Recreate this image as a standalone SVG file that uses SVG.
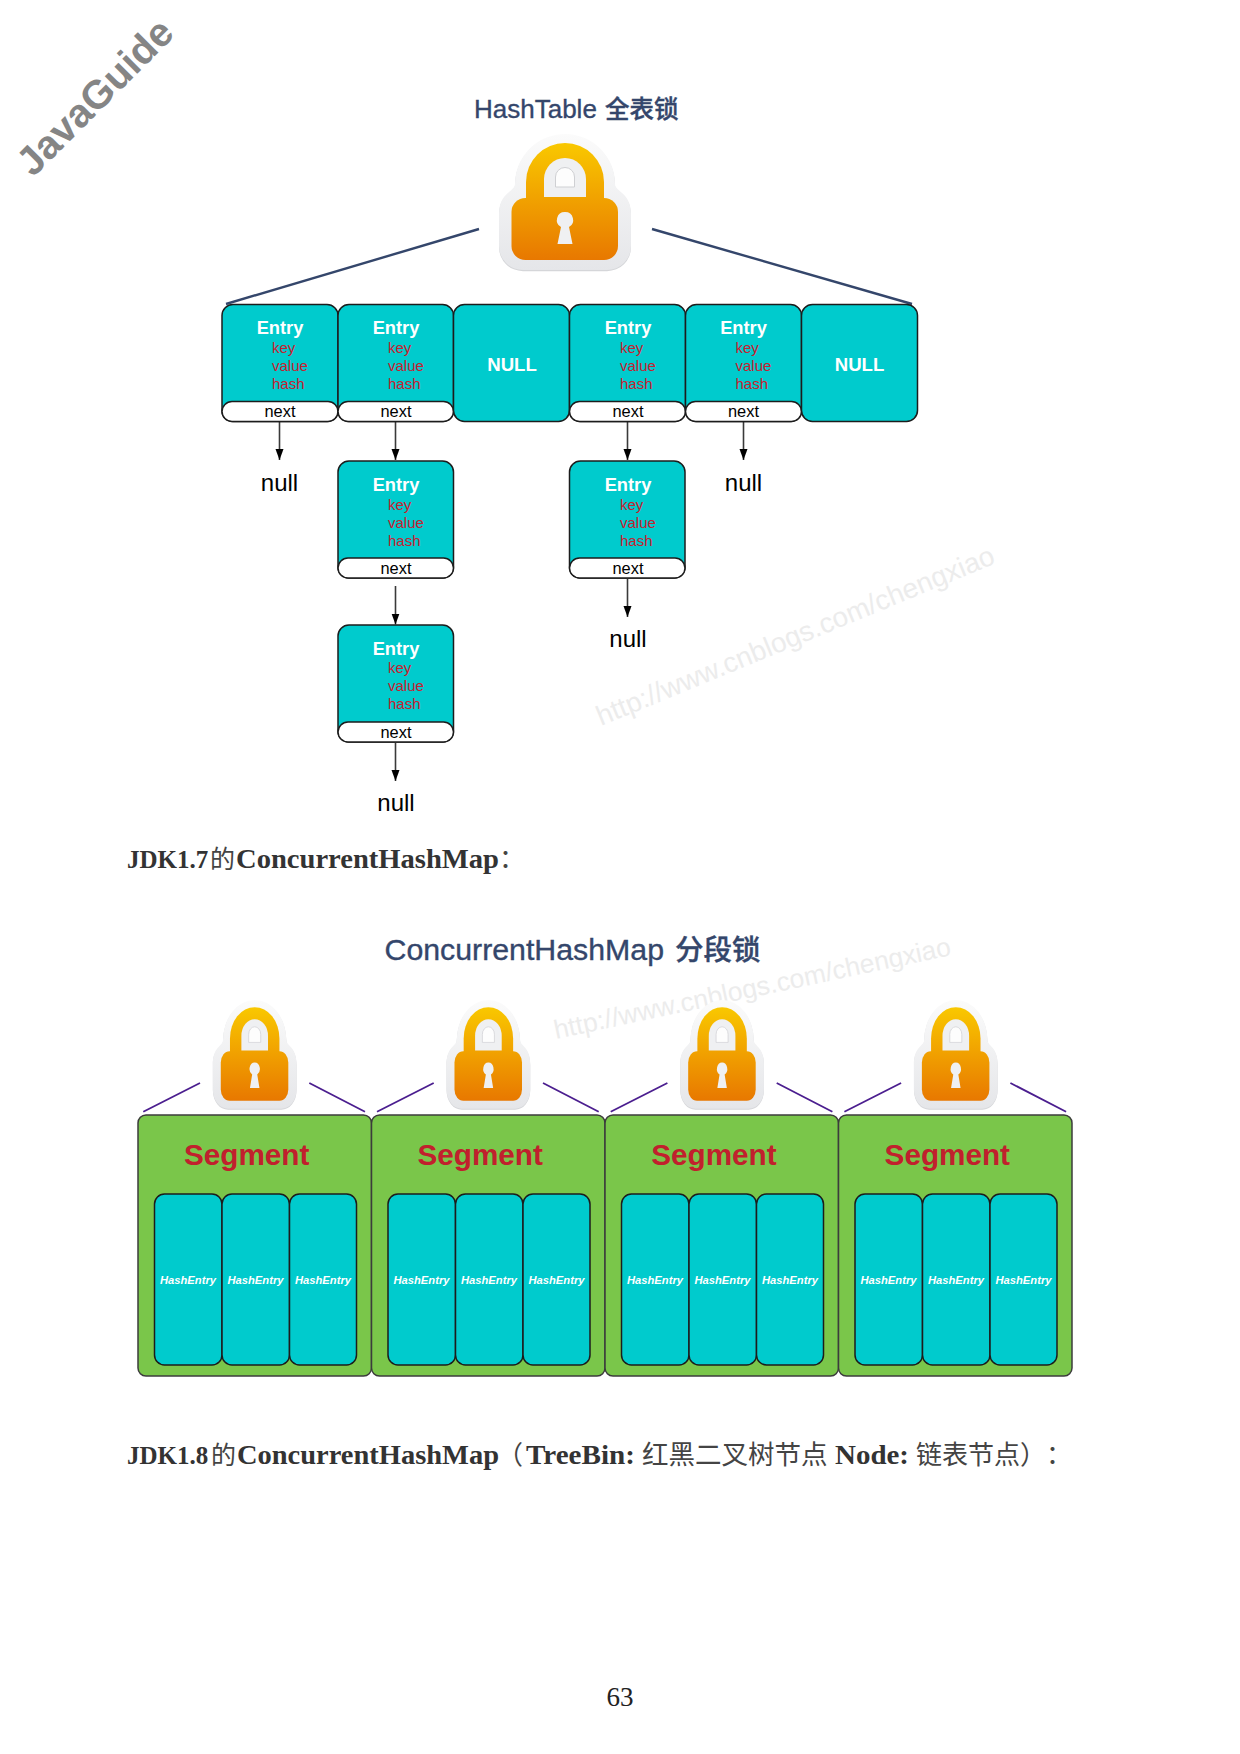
<svg xmlns="http://www.w3.org/2000/svg" xmlns:xlink="http://www.w3.org/1999/xlink" width="1240" height="1754" viewBox="0 0 1240 1754">
<style>
text{font-family:"Liberation Sans","Noto Sans CJK SC",sans-serif}
.box{fill:#00cbcd;stroke:#1c1c1c;stroke-width:1.5}
.nx{fill:#fff;stroke:#1c1c1c;stroke-width:1.5}
.e{font-size:18.3px;font-weight:700;fill:#fff;text-anchor:middle}
.f{font-size:15px;fill:#c8202f}
.n{font-size:16.4px;fill:#000;text-anchor:middle}
.nl{font-size:24px;fill:#000;text-anchor:middle}
.N{font-size:18.6px;font-weight:700;fill:#fff;text-anchor:middle}
.title{fill:#34466b;stroke:#34466b;stroke-width:.35;font-weight:500}
.seg{fill:#7ac64a;stroke:#3c3c3c;stroke-width:1.5}
.s{font-size:29.7px;font-weight:700;fill:#c1202d}
.he{font-size:11.2px;font-weight:700;font-style:italic;fill:#fff;text-anchor:middle}
.wm{fill:#ececec}
.ar{stroke:#3a3a3a;stroke-width:1.6;fill:none;marker-end:url(#arrow)}
.bl{stroke:#34466b;stroke-width:2.4;fill:none}
.pl{stroke:#4b1e8f;stroke-width:1.8;fill:none}
text.sf{font-family:"Liberation Serif","Noto Sans CJK SC",serif;font-weight:700;font-size:27px;fill:#333}
text.cj{font-family:"Noto Sans CJK SC",sans-serif;font-weight:400;font-size:26px;fill:#444}
</style>
<defs>
<marker id="arrow" markerUnits="userSpaceOnUse" markerWidth="12" markerHeight="10" refX="11" refY="4.500" orient="auto"><path d="M0 0.500L11 4.500L0 8.500z" fill="#000"/></marker>
<linearGradient id="gOut" x1="0" y1="0" x2="0" y2="1"><stop offset="0" stop-color="#fbfbfb"/><stop offset="1" stop-color="#e5e6e9"/></linearGradient>
<linearGradient id="gLock" gradientUnits="userSpaceOnUse" x1="0" y1="9" x2="0" y2="126"><stop offset="0" stop-color="#f9c800"/><stop offset="1" stop-color="#e87800"/></linearGradient>
<g id="lock">
<path d="M-50 50A50 50 0 0 1 50 50C50 58 66 58 66 80V112A24 24 0 0 1 42 136H-42A24 24 0 0 1 -66 112V80C-66 58 -50 58 -50 50z" fill="#d5d6d9" transform="translate(0 1.2)"/>
<path d="M-50 50A50 50 0 0 1 50 50C50 58 66 58 66 80V112A24 24 0 0 1 42 136H-42A24 24 0 0 1 -66 112V80C-66 58 -50 58 -50 50z" fill="url(#gOut)"/>
<path d="M-39 65V48A39 39 0 0 1 39 48V65z" fill="url(#gLock)"/>
<rect x="-53.500" y="64" width="106.500" height="62" rx="14" fill="url(#gLock)"/>
<path d="M-21 63V45A21 21 0 0 1 21 45V63z" fill="#eff0f2"/>
<path d="M-9.500 53V43A9.500 9.500 0 0 1 9.500 43V53z" fill="#fdfdfd" stroke="#cfd0d3" stroke-width="1"/>
<path d="M0 78A8 8 0 0 1 4 93L7.500 110H-7.500L-4 93A8 8 0 0 1 0 78z" fill="#eff0f2"/>
</g>
</defs>
<rect width="1240" height="1754" fill="#fff"/>
<text class="wm" font-size="27.900" transform="translate(601 726) rotate(-22.4)">http://www.cnblogs.com/chengxiao</text>
<text class="wm" font-size="26.400" transform="translate(556 1039) rotate(-12)">http://www.cnblogs.com/chengxiao</text>
<text id="brand" font-size="40" font-weight="700" fill="#858585" transform="translate(33 178) rotate(-45)">JavaGuide</text>
<text class="title" font-size="26" x="474" y="118">HashTable <tspan font-size="24.500" dx="1">全表锁</tspan></text>
<text class="title" font-size="30.300" x="384.500" y="960">ConcurrentHashMap <tspan font-size="28.500" dx="2.500">分段锁</tspan></text>
<g id="heading-17">
<text class="sf" x="127" y="868" style="font-size:25px">JDK1.7</text>
<text class="cj" x="210" y="868" style="font-size:25px">的</text>
<text class="sf" x="236" y="868" textLength="263" lengthAdjust="spacingAndGlyphs" style="font-size:28px">ConcurrentHashMap</text>
<text class="cj" x="499" y="868">：</text>
</g>
<g id="heading-18">
<text class="sf" x="127" y="1464" style="font-size:25px">JDK1.8</text>
<text class="cj" x="211" y="1464" style="font-size:25px">的</text>
<text class="sf" x="237" y="1464" textLength="262" lengthAdjust="spacingAndGlyphs" style="font-size:28px">ConcurrentHashMap</text>
<text class="cj" x="497" y="1464">（</text>
<text class="sf" x="526" y="1464" textLength="109" lengthAdjust="spacingAndGlyphs">TreeBin:</text>
<text class="cj" x="642" y="1464" style="font-size:26.500px">红黑二叉树节点</text>
<text class="sf" x="835" y="1464" textLength="74" lengthAdjust="spacingAndGlyphs">Node:</text>
<text class="cj" x="916" y="1464">链表节点</text>
<text class="cj" x="1020" y="1464">）</text>
<text class="cj" x="1046" y="1464">：</text>
</g>
<text id="page" x="620" y="1706" font-size="27" text-anchor="middle" fill="#222" style="font-family:'Liberation Serif',serif">63</text>
<g id="lock-top"><use xlink:href="#lock" href="#lock" transform="translate(565 134)"/></g>
<g id="lock-s1"><use xlink:href="#lock" href="#lock" transform="translate(254.700 1000) scale(.634 .8)"/></g>
<g id="lock-s2"><use xlink:href="#lock" href="#lock" transform="translate(488.400 1000) scale(.634 .8)"/></g>
<g id="lock-s3"><use xlink:href="#lock" href="#lock" transform="translate(722.100 1000) scale(.634 .8)"/></g>
<g id="lock-s4"><use xlink:href="#lock" href="#lock" transform="translate(955.800 1000) scale(.634 .8)"/></g>
<g id="connectors">
<path class="bl" d="M479 229L226 304"/>
<path class="bl" d="M652 229L912 304"/>
<path class="ar" d="M279.500 422V460"/>
<path class="ar" d="M395.500 422V460"/>
<path class="ar" d="M627.500 422V460"/>
<path class="ar" d="M743.500 422V460"/>
<path class="ar" d="M395.500 586V624.500"/>
<path class="ar" d="M395.500 743V781"/>
<path class="ar" d="M627.500 579V617"/>
<path class="pl" d="M200 1083L143.300 1111.700M309.300 1083L365 1111.700"/>
<path class="pl" d="M433.700 1083L377 1111.700M543 1083L598.700 1111.700"/>
<path class="pl" d="M667.400 1083L610.700 1111.700M776.700 1083L832.400 1111.700"/>
<path class="pl" d="M901.100 1083L844.400 1111.700M1010.400 1083L1066.100 1111.700"/>
</g>
<g id="entry-1"><rect class="box" x="222" y="304.500" width="116" height="117" rx="11"/><rect class="nx" x="222" y="401.500" width="116" height="20" rx="10"/><text class="e" x="280" y="334">Entry</text><text class="f" x="272" y="353">key</text><text class="f" x="272" y="371">value</text><text class="f" x="272" y="389">hash</text><text class="n" x="280" y="417.300">next</text></g>
<g id="entry-2"><rect class="box" x="338" y="304.500" width="115.500" height="117" rx="11"/><rect class="nx" x="338" y="401.500" width="115.500" height="20" rx="10"/><text class="e" x="396" y="334">Entry</text><text class="f" x="388" y="353">key</text><text class="f" x="388" y="371">value</text><text class="f" x="388" y="389">hash</text><text class="n" x="396" y="417.300">next</text></g>
<g id="null-3"><rect class="box" x="453.500" y="304.500" width="116" height="117" rx="11"/><text class="N" x="512" y="371">NULL</text></g>
<g id="entry-4"><rect class="box" x="569.500" y="304.500" width="116" height="117" rx="11"/><rect class="nx" x="569.500" y="401.500" width="116" height="20" rx="10"/><text class="e" x="628" y="334">Entry</text><text class="f" x="620" y="353">key</text><text class="f" x="620" y="371">value</text><text class="f" x="620" y="389">hash</text><text class="n" x="628" y="417.300">next</text></g>
<g id="entry-5"><rect class="box" x="685.500" y="304.500" width="116" height="117" rx="11"/><rect class="nx" x="685.500" y="401.500" width="116" height="20" rx="10"/><text class="e" x="743.500" y="334">Entry</text><text class="f" x="735.500" y="353">key</text><text class="f" x="735.500" y="371">value</text><text class="f" x="735.500" y="389">hash</text><text class="n" x="743.500" y="417.300">next</text></g>
<g id="null-6"><rect class="box" x="801.500" y="304.500" width="116" height="117" rx="11"/><text class="N" x="859.500" y="371">NULL</text></g>
<g id="entry-2b"><rect class="box" x="338" y="461" width="115.500" height="117" rx="11"/><rect class="nx" x="338" y="558" width="115.500" height="20" rx="10"/><text class="e" x="396" y="490.500">Entry</text><text class="f" x="388" y="509.500">key</text><text class="f" x="388" y="527.500">value</text><text class="f" x="388" y="545.500">hash</text><text class="n" x="396" y="573.800">next</text></g>
<g id="entry-4b"><rect class="box" x="569.500" y="461" width="115.500" height="117" rx="11"/><rect class="nx" x="569.500" y="558" width="115.500" height="20" rx="10"/><text class="e" x="628" y="490.500">Entry</text><text class="f" x="620" y="509.500">key</text><text class="f" x="620" y="527.500">value</text><text class="f" x="620" y="545.500">hash</text><text class="n" x="628" y="573.800">next</text></g>
<g id="entry-2c"><rect class="box" x="338" y="625" width="115.500" height="117" rx="11"/><rect class="nx" x="338" y="722" width="115.500" height="20" rx="10"/><text class="e" x="396" y="654.500">Entry</text><text class="f" x="388" y="673">key</text><text class="f" x="388" y="691">value</text><text class="f" x="388" y="709">hash</text><text class="n" x="396" y="737.800">next</text></g>
<g id="nulls"><text class="nl" x="279.500" y="491">null</text><text class="nl" x="743.500" y="491">null</text><text class="nl" x="628" y="647">null</text><text class="nl" x="396" y="811">null</text></g>
<g id="segment-1"><rect class="seg" x="138" y="1115" width="233.500" height="261" rx="8"/><text class="s" x="184" y="1164.500">Segment</text><rect class="box" x="154.500" y="1194" width="67.500" height="171" rx="10"/><rect class="box" x="222" y="1194" width="67.500" height="171" rx="10"/><rect class="box" x="289.500" y="1194" width="67" height="171" rx="10"/><text class="he" x="188" y="1284">HashEntry</text><text class="he" x="255.500" y="1284">HashEntry</text><text class="he" x="323" y="1284">HashEntry</text></g>
<g id="segment-2"><rect class="seg" x="371.500" y="1115" width="233.500" height="261" rx="8"/><text class="s" x="417.500" y="1164.500">Segment</text><rect class="box" x="388" y="1194" width="67.500" height="171" rx="10"/><rect class="box" x="455.500" y="1194" width="67.500" height="171" rx="10"/><rect class="box" x="523" y="1194" width="67" height="171" rx="10"/><text class="he" x="421.500" y="1284">HashEntry</text><text class="he" x="489" y="1284">HashEntry</text><text class="he" x="556.500" y="1284">HashEntry</text></g>
<g id="segment-3"><rect class="seg" x="605" y="1115" width="233.500" height="261" rx="8"/><text class="s" x="651.200" y="1164.500">Segment</text><rect class="box" x="621.500" y="1194" width="67.500" height="171" rx="10"/><rect class="box" x="689" y="1194" width="67.500" height="171" rx="10"/><rect class="box" x="756.500" y="1194" width="67" height="171" rx="10"/><text class="he" x="655" y="1284">HashEntry</text><text class="he" x="722.500" y="1284">HashEntry</text><text class="he" x="790" y="1284">HashEntry</text></g>
<g id="segment-4"><rect class="seg" x="838.500" y="1115" width="233.500" height="261" rx="8"/><text class="s" x="884.600" y="1164.500">Segment</text><rect class="box" x="855" y="1194" width="67.500" height="171" rx="10"/><rect class="box" x="922.500" y="1194" width="67.500" height="171" rx="10"/><rect class="box" x="990" y="1194" width="67" height="171" rx="10"/><text class="he" x="888.500" y="1284">HashEntry</text><text class="he" x="956" y="1284">HashEntry</text><text class="he" x="1023.500" y="1284">HashEntry</text></g>
</svg>
